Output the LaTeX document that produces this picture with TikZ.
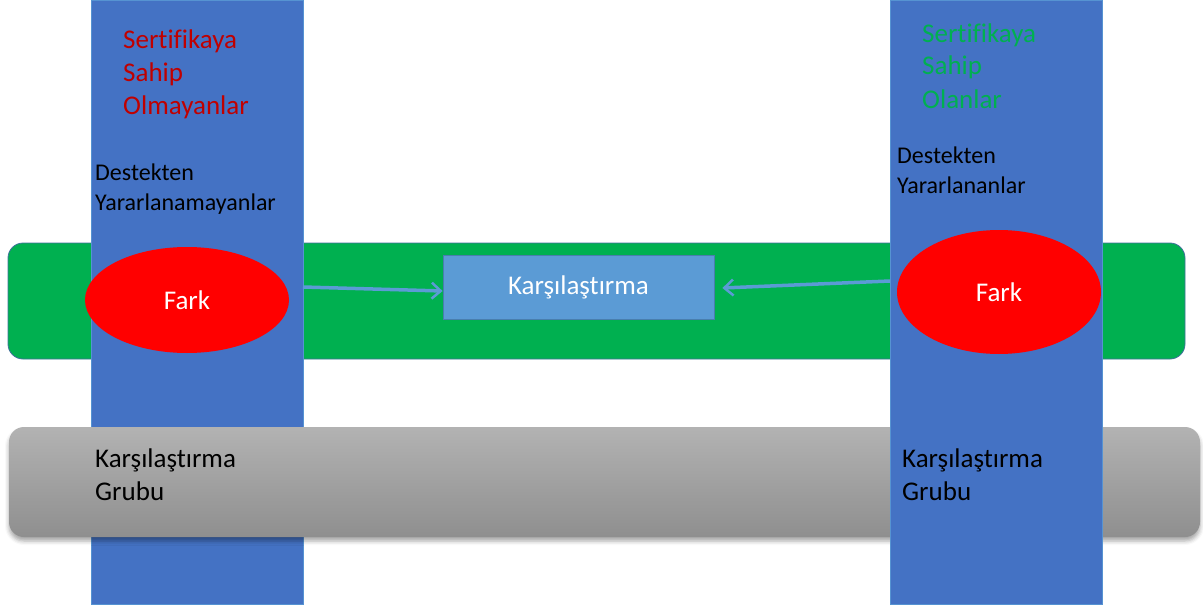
\documentclass[tikz,border=0pt]{standalone}
\usepackage{fontspec}
\setmainfont{Carlito}[Ligatures=NoCommon]
\usetikzlibrary{arrows.meta,shapes.geometric,shadows.blur}
\definecolor{colblue}{HTML}{4472C4}
\definecolor{bandgreen}{HTML}{00B050}
\definecolor{boxblue}{HTML}{5B9BD5}
\definecolor{txtred}{HTML}{C00000}
\definecolor{txtgreen}{HTML}{00B050}
\definecolor{edgeblue}{HTML}{41719C}
\tikzset{
  column/.style={draw=boxblue!80!colblue, line width=0.6pt, fill=colblue},
  bigfont/.style={font=\fontsize{27}{33}\selectfont},
  smallfont/.style={font=\fontsize{24}{30}\selectfont},
  label/.style={inner sep=0pt, align=left, anchor=base west},
  fark/.style={ellipse, fill=red, inner sep=0pt, text=white, bigfont},
  arr/.style={draw=boxblue, line width=3.5pt, -{Straight Barb[length=9pt,width=16pt,line width=2.5pt]}},
}
\begin{document}
\begin{tikzpicture}[x=1pt,y=-1pt]
\useasboundingbox (0,0) rectangle (1203,610);
% green band behind both columns
\path[draw=edgeblue, line width=0.8pt, fill=bandgreen, rounded corners=15pt]
  (8,243) rectangle (1185,359);
\node[inner sep=0pt, minimum width=1177pt, minimum height=116pt] (green) at (596.5,301) {};
% left column
\path[column] (91,0) rectangle (303,604);
\node[inner sep=0pt, minimum width=212pt, minimum height=604pt] (colL) at (197,302) {};
% grey comparison band, over the left column and under the right one
\path[rounded corners=15pt, top color=black!30, bottom color=black!44,
      blur shadow={shadow xshift=0pt, shadow yshift=-4pt, shadow blur radius=4pt, shadow opacity=35}]
  (9,427) rectangle (1200,537);
\node[inner sep=0pt, minimum width=1191pt, minimum height=110pt] (grey) at (604.5,482) {};
% right column
\path[column] (890,0) rectangle (1102,604);
\node[inner sep=0pt, minimum width=212pt, minimum height=604pt] (colR) at (996,302) {};
% difference ellipses
\node[fark, minimum width=204pt, minimum height=106pt] (ellL) at (187,300) {Fark};
\node[fark, minimum width=204pt, minimum height=124pt] (ellR) at (999,292) {Fark};
% comparison box
\node[draw=edgeblue!70!boxblue, line width=0.8pt, fill=boxblue, text=white, bigfont,
      minimum width=271pt, minimum height=64pt, inner sep=0pt] (box) at (578.5,287) {Karşılaştırma};
% arrows into the comparison box
\coordinate (startL) at (303,287);
\coordinate (startR) at (890,281);
\draw[arr] (startL) -- ([yshift=-4pt]box.west);
\draw[arr] (startR) -- ([xshift=8pt,yshift=-1pt]box.east);
% labels (anchored at the baseline of their last line)
\node[label, bigfont, text=txtred] (certL) at (123,114) {Sertifikaya\\Sahip\\Olmayanlar};
\node[label, bigfont, text=txtgreen] (certR) at (922,108) {Sertifikaya\\Sahip\\Olanlar};
\node[label, smallfont] (supL) at (95,210) {Destekten\\Yararlanamayanlar};
\node[label, smallfont] (supR) at (897,193) {Destekten\\Yararlananlar};
\node[label, bigfont] (grpL) at (95,500) {Karşılaştırma\\Grubu};
\node[label, bigfont] (grpR) at (902,500) {Karşılaştırma\\Grubu};
\end{tikzpicture}
\end{document}
